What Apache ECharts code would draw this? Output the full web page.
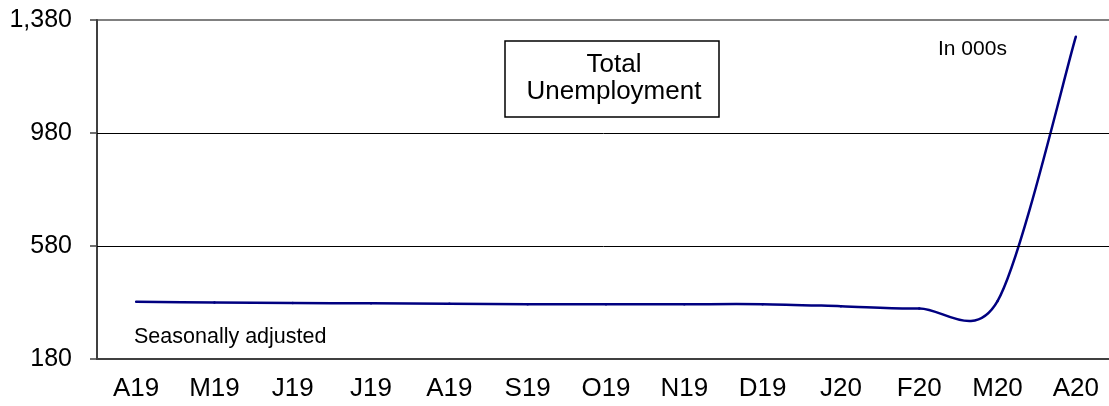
<!DOCTYPE html>
<html>
<head>
<meta charset="utf-8">
<script src="https://cdn.jsdelivr.net/npm/echarts@6/dist/echarts.min.js"></script>
<style>
  html, body { margin: 0; padding: 0; background: #fff; }
  #chart { width: 1109px; height: 406px; }
</style>
</head>
<body>
<div id="chart"></div>
<script>
const months = ['A19', 'M19', 'J19', 'J19', 'A19', 'S19', 'O19', 'N19', 'D19', 'J20', 'F20', 'M20', 'A20'];
const unemployment = [383, 380, 378, 377, 376, 374, 374, 374, 374, 367, 359, 385, 1321];
const yTicks = [180, 580, 980, 1380];

const font = 'Liberation Sans, Arial, sans-serif';
const tension = 0.15;
const chart = echarts.init(document.getElementById('chart'));

// spreadsheet-style smoothing (catmull-rom, no clamping, so the curve dips before the jump)
function renderSegment(params, api) {
  const i = params.dataIndex;
  const n = unemployment.length;
  if (i >= n - 1) return null;
  const pt = k => {
    const j = Math.max(0, Math.min(n - 1, k));
    return api.coord([j, unemployment[j]]);
  };
  const p0 = pt(i - 1), p1 = pt(i), p2 = pt(i + 1), p3 = pt(i + 2);
  return {
    type: 'bezierCurve',
    shape: {
      x1: p1[0], y1: p1[1],
      x2: p2[0], y2: p2[1],
      cpx1: p1[0] + (p2[0] - p0[0]) * tension, cpy1: p1[1] + (p2[1] - p0[1]) * tension,
      cpx2: p2[0] - (p3[0] - p1[0]) * tension, cpy2: p2[1] - (p3[1] - p1[1]) * tension
    },
    style: { stroke: '#000080', lineWidth: 2.5, fill: null, lineCap: 'round' }
  };
}

chart.setOption({
  animation: false,
  grid: {
    left: 97, width: 1018, top: 20, bottom: 47,
    outerBoundsMode: 'none',
    show: true, borderColor: '#808080', borderWidth: 2, backgroundColor: '#fff'
  },
  xAxis: {
    type: 'category',
    data: months,
    axisLine: { lineStyle: { color: '#404040', width: 2 } },
    axisTick: { length: 8, lineStyle: { color: '#404040', width: 1.5 } },
    axisLabel: { color: '#000', fontFamily: font, fontSize: 26, margin: 17 }
  },
  yAxis: {
    type: 'value',
    min: 180,
    max: 1380,
    axisLine: { show: true, lineStyle: { color: '#404040', width: 2 } },
    axisTick: { show: true, length: 7, customValues: yTicks, lineStyle: { color: '#404040', width: 1.5 } },
    axisLabel: {
      color: '#000', fontFamily: font, fontSize: 25, margin: 25,
      customValues: yTicks,
      formatter: v => v.toLocaleString('en-US')
    },
    splitLine: { show: false }
  },
  series: [{
    type: 'custom',
    renderItem: renderSegment,
    data: unemployment.map((v, i) => [i, v]),
    encode: { x: 0, y: 1 },
    clip: true,
    z: 3
  }, {
    type: 'line',
    data: [],
    markLine: {
      silent: true,
      symbol: 'none',
      label: { show: false },
      lineStyle: { color: '#000', width: 1, type: 'solid' },
      data: yTicks.slice(1, 3).map(v => ({ yAxis: v }))
    }
  }],
  graphic: [
    {
      type: 'rect',
      shape: { x: 505, y: 41, width: 214, height: 76 },
      style: { fill: '#fff', stroke: '#000', lineWidth: 1.5 }
    },
    {
      type: 'text',
      x: 614, y: 78,
      style: {
        text: 'Total\nUnemployment', fill: '#000', font: '26px ' + font,
        align: 'center', verticalAlign: 'middle', lineHeight: 27
      }
    },
    {
      type: 'text',
      x: 938, y: 49,
      style: { text: 'In 000s', fill: '#000', font: '21px ' + font, verticalAlign: 'middle' }
    },
    {
      type: 'text',
      x: 134, y: 337,
      style: { text: 'Seasonally adjusted', fill: '#000', font: '21.5px ' + font, verticalAlign: 'middle' }
    }
  ]
});
</script>
</body>
</html>
